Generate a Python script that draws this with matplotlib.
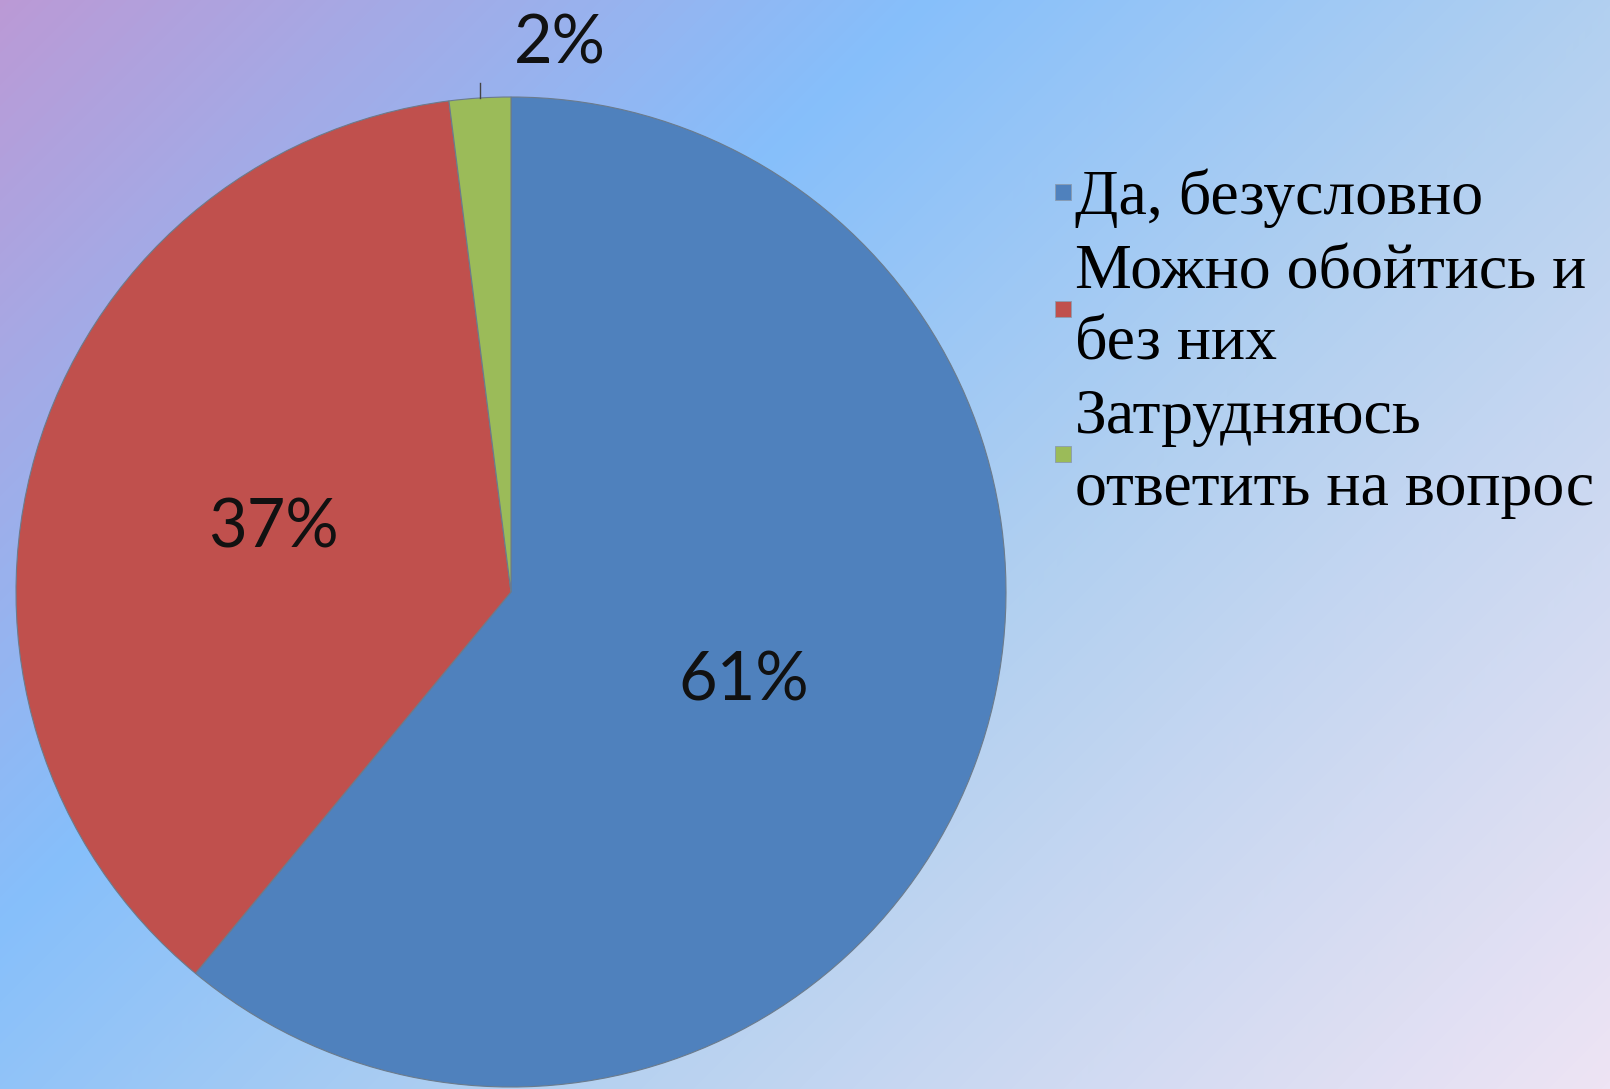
import numpy as np
import matplotlib.pyplot as plt
from matplotlib.colors import LinearSegmentedColormap
from matplotlib.lines import Line2D

# данные диаграммы
categories = ["Да, безусловно", "Можно обойтись и\nбез них", "Затрудняюсь\nответить на вопрос"]
values = [61, 37, 2]
colors = ["#4F81BD", "#C0504D", "#9BBB59"]

W, H = 1610, 1089
fig = plt.figure(figsize=(W / 100, H / 100), dpi=100)

# фон с диагональным градиентом
bg = fig.add_axes([0, 0, 1, 1], zorder=0)
bg.axis("off")
yy, xx = np.mgrid[0:H, 0:W]
t = (xx + yy) / (W + H)
cmap = LinearSegmentedColormap.from_list(
    "fon", [(0.0, "#BB9AD6"), (0.34, "#86BFFB"), (0.6, "#B2D0F0"), (1.0, "#EEE4F4")])
bg.imshow(t, cmap=cmap, extent=(0, W, H, 0), aspect="auto", vmin=0, vmax=1)

# круговая диаграмма
ax = fig.add_axes([0, 0, 1, 1], zorder=1)
cx, cy, R = 511, H - 592, 495

wedges, texts, autotexts = ax.pie(
    values, colors=colors, startangle=90, counterclock=False,
    center=(cx, cy), radius=R, autopct="%d%%", pctdistance=0.5,
    wedgeprops=dict(edgecolor="#6b7b8c", linewidth=0.8),
    textprops=dict(fontsize=48, family="Lato", color="#111111"))
ax.set_xlim(0, W)
ax.set_ylim(0, H)
ax.set_aspect("auto")
ax.axis("off")
for at in autotexts:
    at.set_va("center_baseline")

# подпись 2% вынесена наружу с короткой выноской
w = wedges[2]
mid = np.deg2rad((w.theta1 + w.theta2) / 2)
px, py = cx + R * np.cos(mid), cy + R * np.sin(mid)
autotexts[2].set_visible(False)
ax.plot([px, px], [py, py + 15], color="#444444", lw=1)
ax.annotate("2%", xy=(px, py), xytext=(80, 53), textcoords="offset pixels",
            ha="center", va="center", fontsize=48, family="Lato", color="#111111")

# легенда с маленькими квадратными маркерами
handles = [Line2D([], [], marker="s", linestyle="", markersize=11,
                  markerfacecolor=wd.get_facecolor(), markeredgecolor="#8a9bb0",
                  markeredgewidth=0.6) for wd in wedges]
leg = fig.legend(handles, categories, loc="upper left", bbox_to_anchor=(0.654, 0.845),
                 frameon=False, prop=dict(family="Liberation Serif", size=46),
                 handlelength=0.3, handletextpad=0.05,
                 labelspacing=0.25, borderpad=0, borderaxespad=0)
for txt in leg.get_texts():
    txt.set_linespacing(1.3)

fig.savefig("out.png", dpi=100)
